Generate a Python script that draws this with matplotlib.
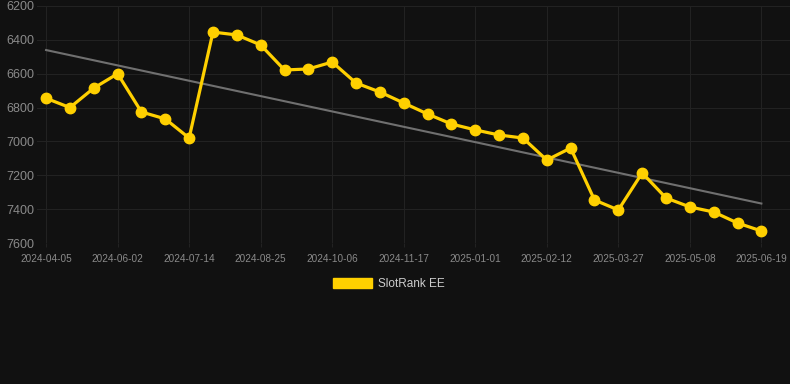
import numpy as np
import matplotlib
matplotlib.use("Agg")
import matplotlib.pyplot as plt

plt.rcParams['font.family'] = ['Liberation Sans', 'DejaVu Sans']

# rank values, one point per sample (y axis inverted: lower rank is better)
ranks = [6745, 6800, 6685, 6600, 6826, 6867, 6980, 6354, 6371, 6430,
         6578, 6572, 6531, 6655, 6708, 6773, 6838, 6897, 6932, 6962,
         6980, 7110, 7039, 7346, 7405, 7186, 7334, 7387, 7417, 7482,
         7529]
tick_labels = ["2024-04-05", "2024-06-02", "2024-07-14", "2024-08-25",
               "2024-10-06", "2024-11-17", "2025-01-01", "2025-02-12",
               "2025-03-27", "2025-05-08", "2025-06-19"]
y_ticks = [6200, 6400, 6600, 6800, 7000, 7200, 7400, 7600]

bg = "#111111"
yellow = "#FFD000"

x = np.arange(len(ranks))
k, b = np.polyfit(x, ranks, 1)

fig = plt.figure(figsize=(7.9, 3.84), dpi=100, facecolor=bg)
ax = fig.add_axes([37/790, 1-243/384, 1-37/790, 237/384])
ax.set_facecolor(bg)

ax.plot(x, k*x + b, color="#707070", lw=1.5, zorder=2)
ax.plot(x, ranks, color=yellow, lw=2.3, marker="o", ms=7.5, zorder=3,
        label="SlotRank EE")

ax.set_ylim(7600, 6200)
ax.set_xlim(-0.38, 31.2)
ax.set_yticks(y_ticks)
ax.set_xticks(x[::3])
ax.set_xticklabels(tick_labels)
ax.grid(True, color="#222222", lw=0.8)
for s in ax.spines.values():
    s.set_visible(False)
ax.tick_params(axis="y", colors="#8a8a8a", labelsize=9, length=0, pad=2)
ax.tick_params(axis="x", colors="#8a8a8a", labelsize=7.2, length=3,
               color="#222222", pad=5)

leg = fig.legend(handles=[plt.Rectangle((0, 0), 1, 1, color=yellow)],
                 labels=["SlotRank EE"], loc="center", bbox_to_anchor=(0.492, 1-284/384),
                 frameon=False, handlelength=3.3, handleheight=1.0,
                 fontsize=8.5, labelcolor="#cccccc", handletextpad=0.5)

fig.savefig("out.png", dpi=100, facecolor=bg)
